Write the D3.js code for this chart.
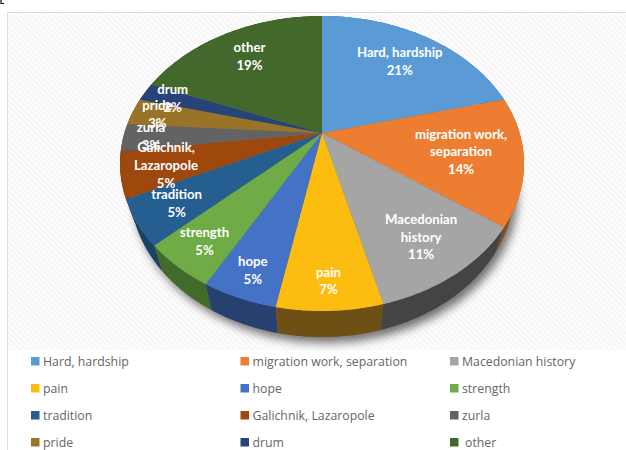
<!DOCTYPE html>
<html>
<head>
<meta charset="utf-8">
<style>
  html, body { margin: 0; padding: 0; background: #fff; }
  svg { display: block; }
  .slice-label { font-family: Lato, sans-serif; font-weight: 700; font-size: 13.2px; fill: #fff; text-anchor: middle; }
  .legend-label { font-family: "Open Sans", sans-serif; font-size: 12.3px; fill: #666; }
</style>
<script src="https://cdnjs.cloudflare.com/ajax/libs/d3/7.8.5/d3.min.js"></script>
</head>
<body>
<script>
const categories = ["Hard, hardship", "migration work, separation", "Macedonian history", "pain", "hope", "strength",
  "tradition", "Galichnik, Lazaropole", "zurla", "pride", "drum", "other"];
const shares = [21, 14, 11, 7, 5, 5, 5, 5, 3, 3, 2, 19];
const sliceColors = ["#5b9bd5", "#ed7d31", "#a5a5a5", "#fdbd10", "#4472c4", "#6fac46",
  "#255e91", "#9e480e", "#636363", "#997328", "#264478", "#43682b"];
const wallColors = ["#34597b", "#8a4a1c", "#444444", "#6e4f14", "#28406f", "#426a2a",
  "#174466", "#5e2b08", "#3b3b3b", "#5b4410", "#162847", "#283e1a"];
const labelLines = [["Hard, hardship"], ["migration work,", "separation"], ["Macedonian", "history"], ["pain"], ["hope"],
  ["strength"], ["tradition"], ["Galichnik,", "Lazaropole"], ["zurla"], ["pride"], ["drum"], ["other"]];
// How far out along its mid-angle each label sits, as a fraction of the pie radius.
const labelRadius = [.717, .697, .774, .862, .861, .837, .806, .785, .861, .867, .837, .735];

const W = 626, H = 450;
const svg = d3.select("body").append("svg").attr("width", W).attr("height", H);
const defs = svg.append("defs");

const hatch = defs.append("pattern").attr("id", "hatch").attr("width", 4).attr("height", 4)
  .attr("patternUnits", "userSpaceOnUse").attr("patternTransform", "rotate(45)");
hatch.append("rect").attr("width", 4).attr("height", 4).attr("fill", "#fdfdfd");
hatch.append("rect").attr("width", 4).attr("height", 2).attr("fill", "#f6f6f6");

defs.append("filter").attr("id", "soft").attr("x", "-20%").attr("y", "-20%").attr("width", "140%").attr("height", "140%")
  .append("feGaussianBlur").attr("stdDeviation", 5);

// Plot background and its frame
svg.append("rect").attr("x", 7).attr("y", 13).attr("width", W - 7).attr("height", 337).attr("fill", "url(#hatch)");
svg.append("path").attr("d", `M7.5,${H}V12.5H${W}`).attr("fill", "none").attr("stroke", "#dcdcdc");
// Small dark tick in the page corner
svg.append("path").attr("d", "M1,0V3.5H4").attr("fill", "none").attr("stroke", "#111").attr("stroke-width", 1.2);

// Perspective view of the pie: the disc's far side is foreshortened, so its centre sits above the outline's centre.
const apex = [322, 133];
const radiusX = 197.6, radiusY = 141.2, tilt = 0.2068;
const depth = 26, baseShrink = 0.95;

function topPoint(angle, r = 1) {
  const u = r * Math.sin(angle), v = r * Math.cos(angle), w = 1 + tilt * v;
  return [apex[0] + radiusX * u / w, apex[1] - radiusY * v / w];
}
function basePoint(angle) {
  const u = Math.sin(angle), v = Math.cos(angle), w = 1 + tilt * v;
  return [apex[0] + baseShrink * radiusX * u / w, apex[1] - radiusY * v / w + depth];
}

const pie = d3.pie().sort(null);
const arcs = pie(shares);
const line = d3.line();
const samples = (d) => d3.range(0, 1.0001, 0.02).map(t => d.startAngle + t * (d.endAngle - d.startAngle));

const wallPath = (d) => {
  const s = samples(d);
  return line([...s.map(a => topPoint(a)), ...s.slice().reverse().map(a => basePoint(a))]) + "Z";
};
const topPath = (d) => line([apex, ...samples(d).map(a => topPoint(a))]) + "Z";

// Soft shadow thrown under the base of the pie
const wholeCircle = { startAngle: 0, endAngle: 2 * Math.PI };
svg.append("path")
  .attr("d", line(samples(wholeCircle).map(a => basePoint(a))) + "Z")
  .attr("transform", "translate(4,6)")
  .attr("fill", "#000").attr("fill-opacity", 0.55).attr("filter", "url(#soft)");

// Side walls, far slices first so the nearer ones overlap them
svg.append("g").selectAll("path")
  .data(arcs.slice().sort((a, b) =>
    Math.abs(Math.cos((a.startAngle + a.endAngle) / 2)) - Math.abs(Math.cos((b.startAngle + b.endAngle) / 2))))
  .join("path")
  .attr("d", wallPath)
  .attr("fill", d => wallColors[d.index]);

svg.append("g").selectAll("path")
  .data(arcs)
  .join("path")
  .attr("d", topPath)
  .attr("fill", d => sliceColors[d.index]);

// Value labels
const lineStep = 17.7;
svg.append("g").selectAll("text")
  .data(arcs)
  .join("text")
  .attr("class", "slice-label")
  .each(function (d) {
    const [x, y] = topPoint((d.startAngle + d.endAngle) / 2, labelRadius[d.index]);
    const lines = [...labelLines[d.index], d.value + "%"];
    const top = y - (lines.length - 1) * lineStep / 2 + 4.5;
    d3.select(this).selectAll("tspan").data(lines).join("tspan")
      .attr("x", x).attr("y", (_, i) => top + i * lineStep).text(t => t);
  });

// Legend: three columns, four rows
const legendX = d3.scalePoint().domain(d3.range(3)).range([31, 450]);
const legendY = d3.scalePoint().domain(d3.range(4)).range([361, 442]);
const legend = svg.append("g").selectAll("g")
  .data(categories)
  .join("g")
  .attr("transform", (_, i) => `translate(${legendX(i % 3)},${legendY(Math.floor(i / 3))})`);
legend.append("rect").attr("y", -4).attr("width", 8.5).attr("height", 8.5).attr("fill", (_, i) => sliceColors[i]);
legend.append("text").attr("class", "legend-label").attr("x", d => d === "other" ? 15 : 12).attr("y", 4.5).text(d => d);
</script>
</body>
</html>
